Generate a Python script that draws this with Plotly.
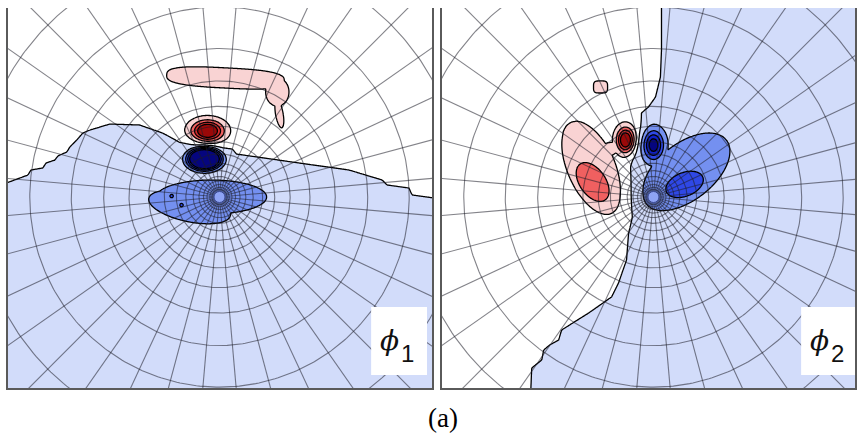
import numpy as np
import plotly.graph_objects as go

W, H = 857, 437
PX_PER_D = 12.0           # screen pixels per cylinder diameter
CYL_PX = [(220, 197), (655, 197)]   # cylinder centre of each panel (pixels)
PANEL_PX = [(8, 433), (443, 857)]   # left/right edges of each panel (pixels)
TOP_PX, BOTTOM_PX = 8, 388

# ---------------- phi_1 : zero-level line (x/D, y/D) ----------------
PHI1_ZERO_X = [-17.8, -16.0, -15.75, -14.75, -14.5, -13.75, -13.5, -12.75,
               -12.5, -11.92, -11.42, -10.83, -9.17, -6.67, -4.75,
               -3.33, -1.67, 1.08, 1.42, 6.67, 10.83, 13.58, 14.0, 15.83,
               16.08, 17.9]
PHI1_ZERO_Y = [1.17, 1.83, 2.25, 2.42, 2.83, 3.08, 3.42, 3.75,
               4.17, 4.75, 5.33, 5.58, 6.08, 6.0, 5.33,
               4.58, 4.5, 4.0, 3.58, 2.83, 2.25, 1.42, 1.0, 0.75,
               0.17, -0.08]

# phi_1 structures: centre, amplitude, half sizes, tilt (deg),
# outline squareness and edge sharpness
PHI1_X0 = [0.5, 4.83, 5.0, -1.0, -1.25, -0.67, -2.5, -4.0, -3.17]
PHI1_Y0 = [9.92, 8.75, 6.92, 5.5, 3.17, 0.0, -0.83, 0.08, -0.67]
PHI1_AMP = [1.2, 1.2, 1.2, 5.5, -6.0, -1.2, -1.2, -1.6, -1.6]
PHI1_SX = [4.8, 0.95, 1.12, 1.2, 1.43, 4.5, 3.4, 0.4, 0.4]
PHI1_SY = [0.82, 1.15, 0.3, 0.8, 0.93, 1.38, 1.2, 0.4, 0.4]
PHI1_ANG = [-3, 0, -80, 0, 0, 0, -12, 0, 0]
PHI1_SHAPE = [3, 2, 2, 2, 2, 2, 2, 2, 2]
PHI1_EDGE = [4, 4, 2, 2, 4, 4, 4, 2, 2]

# ---------------- phi_2 : zero-level line (y/D -> x/D) ----------------
PHI2_ZERO_Y = [-16.2, -14.25, -13.58, -12.75, -12.33, -11.92, -11.08, -9.67,
               -8.33, -7.17, -5.25, -3.0, -1.67, 0.83, 2.5, 3.08, 4.75,
               5.83, 7.0, 7.5, 8.33, 10.0, 12.25, 16.0]
PHI2_ZERO_X = [-10.25, -10.17, -9.33, -9.17, -8.67, -7.92, -7.67, -5.42,
               -3.5, -2.92, -2.25, -2.08, -1.75, -1.83, -1.92, -1.83, -1.25,
               -1.0, -1.0, -0.42, 0.17, 0.58, 0.67, 0.67]

PHI2_X0 = [-4.42, -5.17, -6.42, -3.9, -5.08, -2.33, 0.0, 2.7, 2.6]
PHI2_Y0 = [9.17, 2.42, 5.17, 3.9, 1.25, 4.75, 4.33, 2.1, 1.05]
PHI2_AMP = [1.2, 1.2, 1.2, 1.2, 2.2, 5.0, -4.2, -1.2, -2.2]
PHI2_SX = [0.57, 4.05, 1.1, 1.1, 2.23, 0.69, 0.8, 4.2, 2.0]
PHI2_SY = [0.49, 1.95, 1.1, 0.55, 1.32, 0.96, 1.15, 2.3, 1.2]
PHI2_ANG = [0, -66, 0, 20, -55, 0, 0, 38, 22]
PHI2_SHAPE = [4, 2, 2, 2, 2, 2, 2, 2, 2]
PHI2_EDGE = [4, 4, 4, 4, 4, 2, 2, 4, 4]

BASE_AMP = 0.6
BASE_WIDTH = 0.6

# contour band colours, from far below -4 up to above +4
BAND_COLORS = ['#05057f', '#1020c8', '#2f48e6', '#7490f0', '#d2dcfa',
               '#ffffff', '#f9d3d3', '#f06060', '#d22a2a', '#9a0808']

# body-fitted mesh: ring radii grow geometrically away from the cylinder
RING_R0 = 0.5
RING_RATIO = 1.28
N_RINGS = 17
N_RAYS = 36
CYL_R = 0.46


def structures(X, Y, x0, y0, amp, sx, sy, ang, shape, edge):
    pos = np.zeros_like(X)
    neg = np.zeros_like(X)
    for a, b, A, s1, s2, t, m, n in zip(x0, y0, amp, sx, sy, ang, shape, edge):
        c, s = np.cos(np.radians(t)), np.sin(np.radians(t))
        dx, dy = X - a, Y - b
        u = np.abs((dx * c + dy * s) / s1)
        v = np.abs((-dx * s + dy * c) / s2)
        r = (u ** m + v ** m) ** (1.0 / m)
        g = A * np.exp(-r ** n)
        if A > 0:
            pos = np.maximum(pos, g)
        else:
            neg = np.minimum(neg, g)
    return pos + neg


def panel_ranges(i):
    cx, cy = CYL_PX[i]
    l, r = PANEL_PX[i]
    xr = [(l - cx) / PX_PER_D, (r - cx) / PX_PER_D]
    yr = [(cy - BOTTOM_PX) / PX_PER_D, (cy - TOP_PX) / PX_PER_D]
    return xr, yr


def field(i):
    xr, yr = panel_ranges(i)
    xs = np.arange(xr[0] - 0.2, xr[1] + 0.2, 0.1)
    ys = np.arange(yr[0] - 0.2, yr[1] + 0.2, 0.1)
    X, Y = np.meshgrid(xs, ys)
    if i == 0:
        yb = np.interp(X, PHI1_ZERO_X, PHI1_ZERO_Y)
        base = BASE_AMP * np.tanh((Y - yb) / BASE_WIDTH)
        z = base + structures(X, Y, PHI1_X0, PHI1_Y0, PHI1_AMP, PHI1_SX,
                              PHI1_SY, PHI1_ANG, PHI1_SHAPE, PHI1_EDGE)
    else:
        xb = np.interp(Y, PHI2_ZERO_Y, PHI2_ZERO_X)
        base = BASE_AMP * np.tanh((xb - X) / BASE_WIDTH)
        z = base + structures(X, Y, PHI2_X0, PHI2_Y0, PHI2_AMP, PHI2_SX,
                              PHI2_SY, PHI2_ANG, PHI2_SHAPE, PHI2_EDGE)
    return np.round(xs, 3), np.round(ys, 3), np.round(z, 3)


def mesh_lines():
    gx, gy = [], []
    th = np.linspace(0, 2 * np.pi, 361)
    for k in range(1, N_RINGS + 1):
        r = RING_R0 * RING_RATIO ** k
        gx += list(np.round(r * np.cos(th), 3)) + [None]
        gy += list(np.round(r * np.sin(th), 3)) + [None]
    rmax = RING_R0 * RING_RATIO ** (N_RINGS + 2)
    for j in range(N_RAYS):
        a = np.radians(5 + 360.0 / N_RAYS * j)
        gx += [CYL_R * np.cos(a), rmax * np.cos(a), None]
        gy += [CYL_R * np.sin(a), rmax * np.sin(a), None]
    return gx, gy


colorscale = [[k / 9, c] for k, c in enumerate(BAND_COLORS)]

fig = go.Figure()
gx, gy = mesh_lines()
for i in range(2):
    xs, ys, z = field(i)
    ax = '' if i == 0 else '2'
    fig.add_trace(go.Contour(
        x=xs, y=ys, z=z, xaxis='x' + ax, yaxis='y' + ax,
        contours=dict(start=-4, end=4, size=1, coloring='fill'),
        colorscale=colorscale, showscale=False,
        line=dict(color='black', width=1.3, smoothing=0.3),
        hoverinfo='skip'))
    fig.add_trace(go.Scatter(
        x=gx, y=gy, mode='lines', xaxis='x' + ax, yaxis='y' + ax,
        line=dict(color='rgba(30,30,40,0.55)', width=1.1),
        hoverinfo='skip', showlegend=False))
    fig.add_shape(type='circle', xref='x' + ax, yref='y' + ax,
                  x0=-CYL_R, x1=CYL_R, y0=-CYL_R, y1=CYL_R,
                  fillcolor='#8ea3f4', line=dict(color='#3a4890', width=1))

axis_common = dict(showgrid=False, zeroline=False, showticklabels=False,
                   ticks='', showline=True, linecolor='#5a5a5a', linewidth=1.6)
for i in range(2):
    xr, yr = panel_ranges(i)
    l, r = PANEL_PX[i]
    ax = '' if i == 0 else '2'
    fig.layout['xaxis' + ax] = dict(axis_common, range=xr,
                                    domain=[l / W, min(r / W, 1.0)],
                                    anchor='y' + ax, mirror=False)
    fig.layout['yaxis' + ax] = dict(axis_common, range=yr,
                                    domain=[1 - BOTTOM_PX / H, 1 - TOP_PX / H],
                                    anchor='x' + ax, mirror=True)

# mode labels
for (bx0, bx1), (phx, numx), num in [((372, 428), (390, 408), '1'),
                                     ((803, 860), (821, 839), '2')]:
    fig.add_shape(type='rect', xref='paper', yref='paper',
                  x0=bx0 / W, x1=min(bx1 / W, 1.0), y0=1 - 375 / H, y1=1 - 307 / H,
                  fillcolor='white', line=dict(width=0), layer='above')
    fig.add_annotation(x=phx / W, y=1 - 340 / H, xref='paper', yref='paper',
                       xanchor='center', yanchor='middle',
                       text='<i>ϕ</i>', showarrow=False,
                       font=dict(family='DejaVu Serif', size=28, color='#111'))
    fig.add_annotation(x=numx / W, y=1 - 353 / H, xref='paper', yref='paper',
                       xanchor='center', yanchor='middle',
                       text=num, showarrow=False,
                       font=dict(family='Liberation Sans', size=24, color='#111'))

fig.add_annotation(x=444 / W, y=1 - 418 / H, xref='paper', yref='paper',
                   xanchor='center', yanchor='middle',
                   text='(a)', showarrow=False,
                   font=dict(family='Liberation Serif', size=27, color='black'))

fig.update_layout(width=W, height=H, margin=dict(l=0, r=0, t=0, b=0),
                  paper_bgcolor='white', plot_bgcolor='white', showlegend=False)

fig.write_html('out.html')
